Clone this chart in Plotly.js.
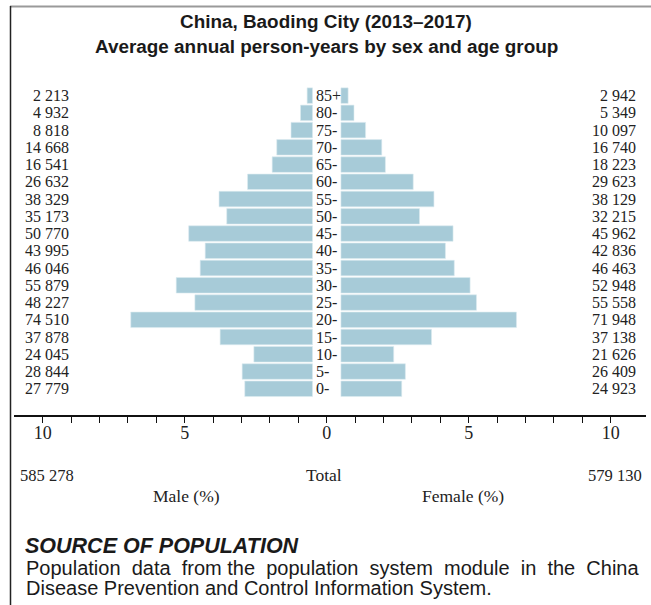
<!DOCTYPE html>
<html>
<head>
<meta charset="utf-8">
<script src="https://cdn.plot.ly/plotly-3.0.1.min.js"></script>
<style>
html,body{margin:0;padding:0;background:#fff;}
#chart{width:651px;height:605px;}
</style>
</head>
<body>
<div id="chart"></div>
<script>
// ---- data (bottom to top) ----
const ageGroups = ['0-','5-','10-','15-','20-','25-','30-','35-','40-','45-','50-','55-','60-','65-','70-','75-','80-','85+'];
const maleCounts = [27779, 28844, 24045, 37878, 74510, 48227, 55879, 46046, 43995, 50770, 35173, 38329, 26632, 16541, 14668, 8818, 4932, 2213];
const femaleCounts = [24923, 26409, 21626, 37138, 71948, 55558, 52948, 46463, 42836, 45962, 32215, 38129, 29623, 18223, 16740, 10097, 5349, 2942];
const maleTotal = 585278;
const femaleTotal = 579130;
const axisTicks = [-10,-9,-8,-7,-6,-5,-4,-3,-2,-1,0,1,2,3,4,5,6,7,8,9,10];
const axisTickText = ['10','','','','','5','','','','','0','','','','','5','','','','','10'];
const titleLines = ['China, Baoding City (2013–2017)', 'Average annual person-years by sex and age group'];
const sourceHead = 'SOURCE OF POPULATION';
const sourceWords1 = ['Population','data','from','the','population','system','module','in','the','China'];
const sourceLine2 = 'Disease Prevention and Control Information System.';

// ---- derived ----
const grand = maleTotal + femaleTotal;
const malePct = maleCounts.map(v => v / grand * 100);
const femalePct = femaleCounts.map(v => v / grand * 100);
const fmt = n => String(n).replace(/\B(?=(\d{3})+(?!\d))/g, ' ');

// ---- layout helpers (pixel -> paper) ----
const W = 651, H = 605, ML = 14, MR = 5, MT = 87, MB = 190;
const PW = W - ML - MR, PH = H - MT - MB;
const PX = px => (px - ML) / PW;
const PY = py => (H - MB - py) / PH;

const serif = 'Liberation Serif, Times New Roman, serif';
const sans = 'Liberation Sans, Arial, sans-serif';
const barColor = '#a7cbd8';
const GAP = 0.5;

const traces = [
  {type:'bar', orientation:'h', y: ageGroups, x: malePct.map(v => -v), base: -GAP,
   marker:{color: barColor, line:{color:'#dcebf0', width:0.6}}, hoverinfo:'skip', showlegend:false},
  {type:'bar', orientation:'h', y: ageGroups, x: femalePct, base: GAP,
   marker:{color: barColor, line:{color:'#dcebf0', width:0.6}}, hoverinfo:'skip', showlegend:false}
];

const annotations = [];
ageGroups.forEach((a, i) => {
  annotations.push({x: -0.45, y: a, xref:'x', yref:'y', text: a, showarrow:false, xanchor:'left', yanchor:'middle',
    font:{family: serif, size:16, color:'#222'}});
  annotations.push({x: -9, y: a, xref:'x', yref:'y', text: fmt(maleCounts[i]), showarrow:false, xanchor:'right', yanchor:'middle',
    font:{family: serif, size:16, color:'#222'}});
  annotations.push({x: 10.97, y: a, xref:'x', yref:'y', text: fmt(femaleCounts[i]), showarrow:false, xanchor:'right', yanchor:'middle',
    font:{family: serif, size:16, color:'#222'}});
});
const lab = (px, py, text, anchor, size) => ({x: PX(px), y: PY(py), xref:'paper', yref:'paper', text: text, showarrow:false,
  xanchor: anchor, yanchor:'middle', font:{family: serif, size: size, color:'#222'}});
annotations.push(lab(18, 475, fmt(maleTotal), 'left', 16.5));
annotations.push(lab(324, 475, 'Total', 'center', 17.5));
annotations.push(lab(644, 475, fmt(femaleTotal), 'right', 16.5));
annotations.push(lab(186, 496, 'Male (%)', 'center', 17.5));
annotations.push(lab(463, 496, 'Female (%)', 'center', 17.5));

// titles
annotations.push({x: PX(326), y: PY(22), xref:'paper', yref:'paper', text: '<b>' + titleLines[0] + '</b>', showarrow:false,
  xanchor:'center', yanchor:'middle', font:{family: sans, size:18.9, color:'#1a1a1a'}});
annotations.push({x: PX(326), y: PY(47), xref:'paper', yref:'paper', text: '<b>' + titleLines[1] + '</b>', showarrow:false,
  xanchor:'center', yanchor:'middle', font:{family: sans, size:18.9, color:'#1a1a1a'}});

// source note (first line justified to the frame width)
const line1 = sourceWords1.map((w, i) => (i === 0 ? '' : (i === 3 ? ' ' : ' &nbsp;')) + w).join('');
annotations.push({x: PX(23), y: PY(546), xref:'paper', yref:'paper', text: '<b><i>' + sourceHead + '</i></b>', showarrow:false,
  xanchor:'left', yanchor:'middle', font:{family: sans, size:21.5, color:'#1a1a1a'}});
annotations.push({x: PX(24), y: PY(568), xref:'paper', yref:'paper', text: line1, showarrow:false,
  xanchor:'left', yanchor:'middle', font:{family: sans, size:20, color:'#1a1a1a'}});
annotations.push({x: PX(24), y: PY(588), xref:'paper', yref:'paper', text: sourceLine2, showarrow:false,
  xanchor:'left', yanchor:'middle', font:{family: sans, size:20, color:'#1a1a1a'}});

const layout = {
  width: W, height: H,
  margin: {l: ML, r: MR, t: MT, b: MB, pad: 0},
  paper_bgcolor: '#fff', plot_bgcolor: '#fff',
  barmode: 'overlay', bargap: 0.1,
  xaxis: {range: [-11.01, 11.24], tickvals: axisTicks, ticktext: axisTickText, ticks: 'outside', ticklen: 6, tickwidth: 1, tickcolor: '#111',
          showline: true, linecolor: '#111', linewidth: 1.5, showgrid: false, zeroline: false, fixedrange: true,
          ticklabelstandoff: -5,
          tickfont: {family: serif, size: 18, color: '#222'}},
  yaxis: {type: 'category', categoryorder: 'array', categoryarray: ageGroups, range: [-1.52, 17.5],
          showticklabels: false, showgrid: false, zeroline: false, showline: false, ticks: '', fixedrange: true},
  annotations: annotations,
  shapes: [
    {type:'line', xref:'paper', yref:'paper', x0: PX(10), x1: PX(651), y0: PY(6.5), y1: PY(6.5), line:{color:'#9a9a9a', width:2}},
    {type:'line', xref:'paper', yref:'paper', x0: PX(10.5), x1: PX(10.5), y0: PY(6), y1: PY(605), line:{color:'#222', width:1.5}}
  ]
};

Plotly.newPlot('chart', traces, layout, {displayModeBar: false, staticPlot: true});
</script>
</body>
</html>
